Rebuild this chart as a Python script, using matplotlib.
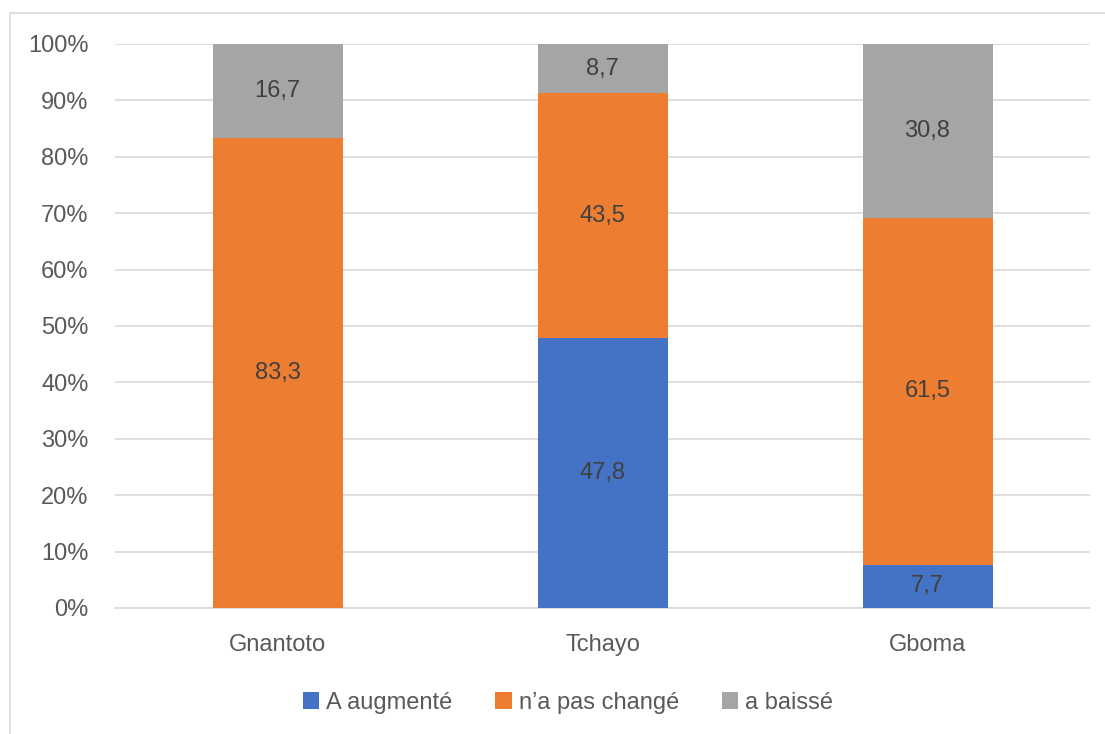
import numpy as np
import matplotlib.pyplot as plt
from matplotlib.patches import Rectangle

plt.rcParams['font.family'] = ['Liberation Sans Narrow', 'Liberation Sans', 'DejaVu Sans']

# data (percent)
villages = ['Gnantoto', 'Tchayo', 'Gboma']
series_names = ['A augmenté', "n\u2019a pas changé", 'a baissé']
augmente = [0.0, 47.8, 7.7]
pas_change = [83.3, 43.5, 61.5]
baisse = [16.7, 8.7, 30.8]

colors = ['#4472c4', '#ed7d31', '#a5a5a5']
txt_gray = '#595959'

fig = plt.figure(figsize=(11.05, 7.34), dpi=100)
ax = fig.add_axes([115 / 1105, 1 - 608 / 734, 975 / 1105, 564 / 734])

# light frame around the chart area
fig.patches.append(Rectangle((10 / 1105, -0.01), 1.0, 1 - 13 / 734 + 0.01,
                             transform=fig.transFigure, fill=False,
                             edgecolor='#d9d9d9', linewidth=1.2))

x = np.arange(len(villages))
bottom = np.zeros(len(villages))
for name, vals, col in zip(series_names, [augmente, pas_change, baisse], colors):
    vals = np.array(vals)
    bars = ax.bar(x, vals, 0.4, bottom=bottom, color=col, label=name, zorder=3)
    for b, v, b0 in zip(bars, vals, bottom):
        if v > 0:
            ax.text(b.get_x() + b.get_width() / 2, b0 + v / 2,
                    f'{v:.1f}'.replace('.', ','), ha='center', va='center',
                    fontsize=17, color='#404040', zorder=4)
    bottom += vals

ax.set_xlim(-0.5, 2.5)
ax.set_ylim(0, 100)
ax.set_yticks(np.arange(0, 101, 10))
ax.set_yticklabels([f'{t}%' for t in range(0, 101, 10)])
ax.set_xticks(x)
ax.set_xticklabels(villages)
ax.grid(axis='y', color='#d9d9d9', linewidth=1.2, zorder=0)
for s in ['top', 'right', 'left']:
    ax.spines[s].set_visible(False)
ax.spines['bottom'].set_color('#d9d9d9')
ax.spines['bottom'].set_linewidth(1.2)
ax.tick_params(axis='both', length=0, labelsize=17, labelcolor=txt_gray)
ax.tick_params(axis='x', pad=19)
ax.tick_params(axis='y', pad=19)

fig.legend(loc='center', bbox_to_anchor=(568 / 1105, 1 - 703 / 734), ncol=3,
           frameon=False, fontsize=17, labelcolor=txt_gray,
           handlelength=0.7, handleheight=0.7, handletextpad=0.3,
           columnspacing=1.8)

fig.savefig('out.png', dpi=100, facecolor='white')
